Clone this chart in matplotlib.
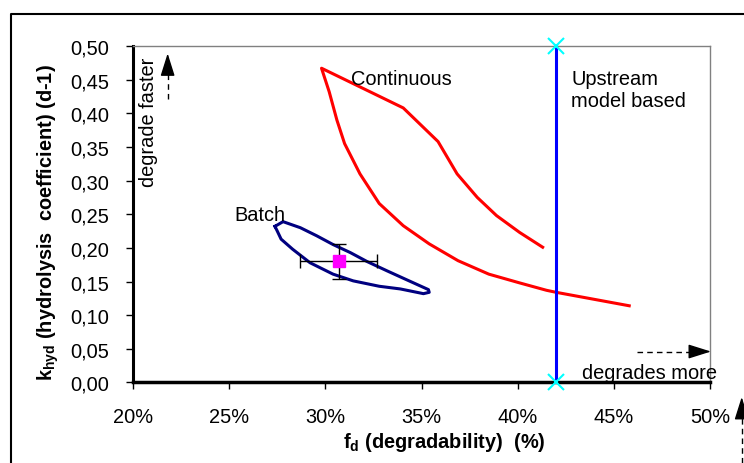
import numpy as np
import matplotlib
matplotlib.use("Agg")
import matplotlib.pyplot as plt
from matplotlib.lines import Line2D

plt.rcParams['font.family'] = ['Liberation Sans', 'DejaVu Sans']
plt.rcParams['mathtext.fontset'] = 'custom'
plt.rcParams['mathtext.rm'] = 'Liberation Sans'
plt.rcParams['mathtext.bf'] = 'Liberation Sans:bold'

# Continuous run envelope (degradability %, k_hyd), lower branch then upper branch.
cont_x = [45.8, 42.0, 41.5, 40.1, 38.5, 36.9, 35.4, 34.05, 32.8, 31.8, 31.0,
          30.6, 30.2, 29.8, 34.05, 35.86, 36.85, 37.9, 38.9, 40.1, 41.3]
cont_y = [0.114, 0.134, 0.137, 0.148, 0.161, 0.181, 0.206, 0.233, 0.266, 0.310,
          0.355, 0.390, 0.432, 0.467, 0.408, 0.358, 0.310, 0.275, 0.248, 0.223,
          0.201]

# Batch envelope (closed loop).
batch_x = [27.38, 27.8, 28.7, 29.55, 30.4, 31.3, 32.15, 33.2, 34.2, 35.36, 35.4,
           35.1, 33.9, 32.8, 31.45, 30.4, 29.2, 28.3, 27.7, 27.5, 27.38]
batch_y = [0.232, 0.239, 0.230, 0.218, 0.205, 0.193, 0.180, 0.166, 0.153, 0.138,
           0.134, 0.132, 0.139, 0.143, 0.151, 0.161, 0.178, 0.198, 0.213, 0.225,
           0.232]

# Batch mean with error bars.
pt_x, pt_y = 30.7, 0.180
pt_xerr, pt_yerr = 2.0, 0.026

# Upstream model based value.
upstream_x = 42.0
upstream_y = [0.0, 0.5]

xticks = [20, 25, 30, 35, 40, 45, 50]
xticklabels = ["20%", "25%", "30%", "35%", "40%", "45%", "50%"]
yticks = [0.0, 0.05, 0.10, 0.15, 0.20, 0.25, 0.30, 0.35, 0.40, 0.45, 0.50]
yticklabels = ["0,00", "0,05", "0,10", "0,15", "0,20", "0,25", "0,30",
               "0,35", "0,40", "0,45", "0,50"]

fs = 14.4

fig = plt.figure(figsize=(7.44, 4.64), dpi=100)
ax = fig.add_axes([0.1788, 0.1735, 0.7755, 0.7252])

ax.plot(cont_x, cont_y, color='#FF0000', lw=2.2)
ax.plot(batch_x, batch_y, color='#000080', lw=2.2)
ax.errorbar(pt_x, pt_y, xerr=pt_xerr, yerr=pt_yerr, fmt='s', color='#FF00FF',
            markersize=9, ecolor='black', elinewidth=1, capsize=5, capthick=1,
            zorder=5)
ax.plot([upstream_x, upstream_x], upstream_y, color='#0000FF', lw=2.2,
        marker='x', markersize=11, markeredgecolor='#00FFFF',
        markeredgewidth=1.5, clip_on=False, zorder=6)

ax.set_xlim(20, 50)
ax.set_ylim(0, 0.5)
ax.set_xticks(xticks)
ax.set_xticklabels(xticklabels, fontsize=fs)
ax.set_yticks(yticks)
ax.set_yticklabels(yticklabels, fontsize=fs)
ax.tick_params(axis='x', direction='out', length=5, width=1, pad=13)
ax.tick_params(axis='y', direction='out', length=5, width=1, pad=12)

for s in ['top', 'right']:
    ax.spines[s].set_color('#808080')
    ax.spines[s].set_linewidth(1)
ax.spines['left'].set_linewidth(2.2)
ax.spines['bottom'].set_linewidth(2.5)

ax.set_xlabel(r"f$_{\mathbf{d}}$ (degradability)  (%)", fontsize=fs,
              fontweight='bold')
ax.xaxis.set_label_coords(0.539, -0.140)
ax.set_ylabel(r"k$_{\mathbf{hyd}}$ (hydrolysis  coefficient) (d-1)",
              fontsize=fs, fontweight='bold')
ax.yaxis.set_label_coords(-0.124, 0.477)

ax.text(25.25, 0.25, "Batch", fontsize=fs, va='center', ha='left')
ax.text(31.33, 0.452, "Continuous", fontsize=fs, va='center', ha='left')
ax.text(42.78, 0.452, "Upstream", fontsize=fs, va='center', ha='left')
ax.text(42.78, 0.419, "model based", fontsize=fs, va='center', ha='left')
ax.text(43.33, 0.015, "degrades more", fontsize=fs, va='center', ha='left')
ax.text(20.78, 0.388, "degrade faster", fontsize=fs, va='center',
        ha='center', rotation=90)

head = dict(arrowstyle='-|>,head_length=0.7,head_width=0.22', color='black',
            lw=1, mutation_scale=20, shrinkA=0, shrinkB=0)

# horizontal dashed arrow
ax.plot([46.2, 49.3], [0.046, 0.046], color='black', lw=1, ls=(0, (4, 3)))
ax.annotate('', xy=(50.05, 0.046), xytext=(49.2, 0.046), arrowprops=head,
            annotation_clip=False)

# vertical dashed arrow
ax.plot([21.8, 21.8], [0.421, 0.465], color='black', lw=1, ls=(0, (4, 3)))
ax.annotate('', xy=(21.8, 0.489), xytext=(21.8, 0.46), arrowprops=head)

# arrow at the bottom right corner of the figure
fig.add_artist(Line2D([741.7 / 744, 741.7 / 744], [0, 50 / 464],
                      color='black', lw=1, ls=(0, (4, 3))))
ax.annotate('', xy=(741.7, 66), xytext=(741.7, 45), xycoords='figure pixels',
            textcoords='figure pixels', arrowprops=head, annotation_clip=False)

# outer frame
fig.add_artist(Line2D([11 / 744, 11 / 744, 1.0], [0, 1 - 15 / 464, 1 - 15 / 464],
                      color='black', lw=1.5))

fig.savefig("out.png", dpi=100)
